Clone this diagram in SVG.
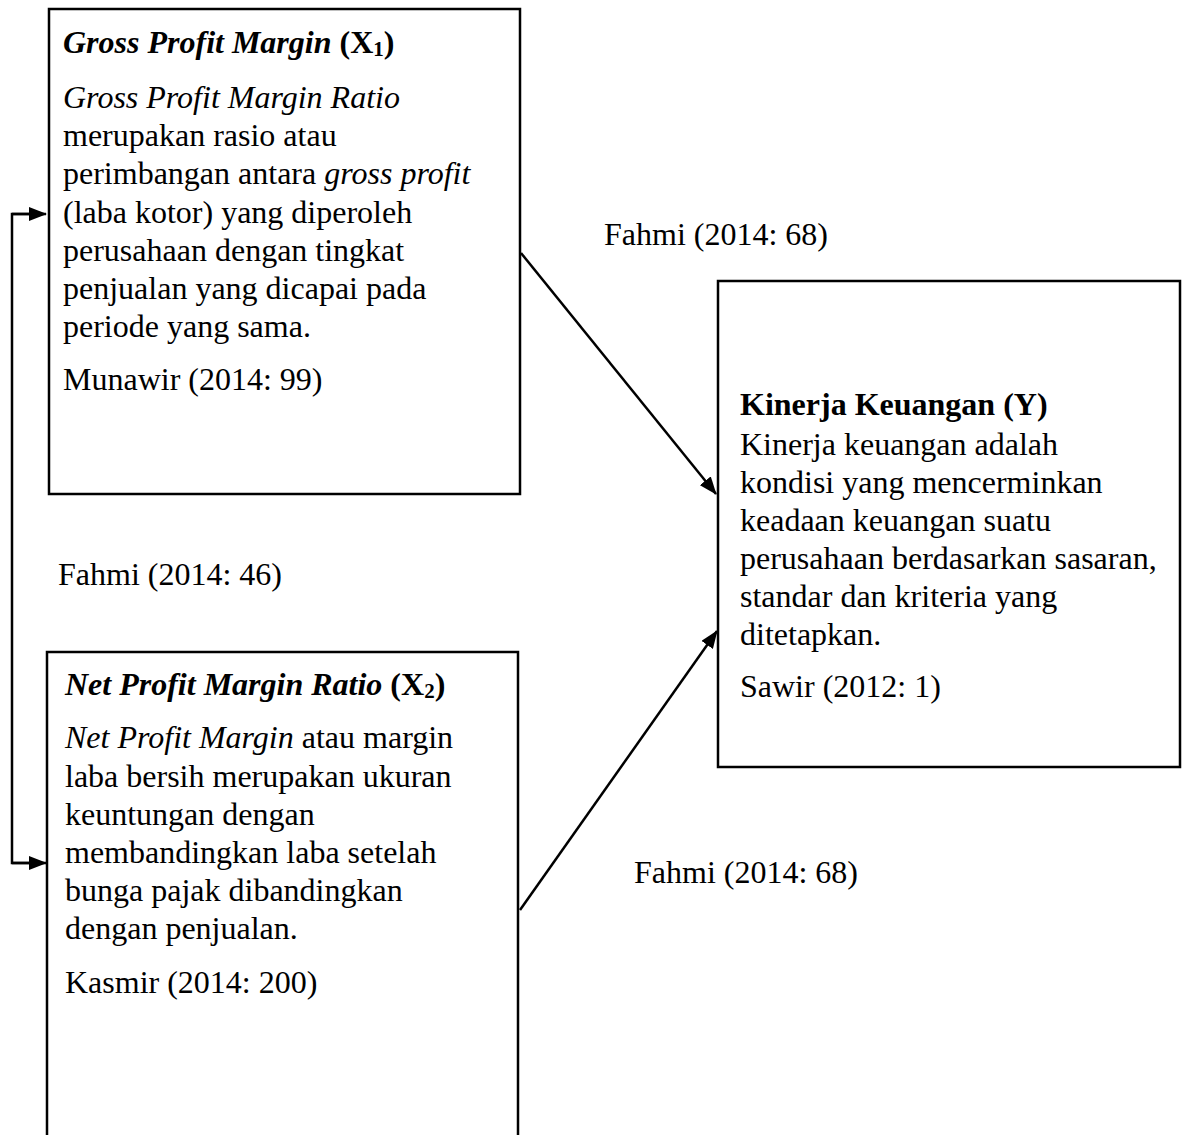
<svg xmlns="http://www.w3.org/2000/svg" width="1184" height="1135" viewBox="0 0 1184 1135">
<style>
text{font-family:"Liberation Serif","Times New Roman",serif;font-size:32px;fill:#000}
.b{font-weight:bold}
.i{font-style:italic}
.sub{font-size:21px}
.box{fill:#fff;stroke:#000;stroke-width:2.5}
.con{fill:none;stroke:#000;stroke-width:2.5}
</style>
<defs>
<marker id="ah" markerWidth="18" markerHeight="14" refX="17" refY="7" orient="auto" markerUnits="userSpaceOnUse">
<path d="M0,0 L18,7 L0,14 Z" fill="#000"/>
</marker>
</defs>
<g id="connectors">
<path class="con" d="M31,214 H12 V863 H31"/>
<line class="con" x1="12" y1="214" x2="46" y2="214" marker-end="url(#ah)"/>
<line class="con" x1="12" y1="863" x2="46" y2="863" marker-end="url(#ah)"/>
<line class="con" x1="521" y1="253" x2="716" y2="494" marker-end="url(#ah)"/>
<line class="con" x1="520" y1="910" x2="717" y2="631" marker-end="url(#ah)"/>
</g>
<g id="x1">
<rect class="box" x="49" y="9" width="471" height="485"/>
<text x="63" y="53"><tspan class="b i">Gross Profit Margin</tspan><tspan class="b"> (X</tspan><tspan class="b sub" dy="3">1</tspan><tspan class="b" dy="-3">)</tspan></text>
<text x="63" y="108" class="i">Gross Profit Margin Ratio</text>
<text x="63" y="146">merupakan rasio atau</text>
<text x="63" y="184">perimbangan antara <tspan class="i">gross profit</tspan></text>
<text x="63" y="223">(laba kotor) yang diperoleh</text>
<text x="63" y="261">perusahaan dengan tingkat</text>
<text x="63" y="299">penjualan yang dicapai pada</text>
<text x="63" y="337">periode yang sama.</text>
<text x="63" y="390">Munawir (2014: 99)</text>
</g>
<g id="x2">
<rect class="box" x="47" y="652" width="471" height="500"/>
<text x="65" y="695"><tspan class="b i">Net Profit Margin Ratio</tspan><tspan class="b"> (X</tspan><tspan class="b sub" dy="3">2</tspan><tspan class="b" dy="-3">)</tspan></text>
<text x="65" y="748"><tspan class="i">Net Profit Margin</tspan> atau margin</text>
<text x="65" y="787">laba bersih merupakan ukuran</text>
<text x="65" y="825">keuntungan dengan</text>
<text x="65" y="863">membandingkan laba setelah</text>
<text x="65" y="901">bunga pajak dibandingkan</text>
<text x="65" y="939">dengan penjualan.</text>
<text x="65" y="993">Kasmir (2014: 200)</text>
</g>
<g id="y">
<rect class="box" x="718" y="281" width="462" height="486"/>
<text x="740" y="415" class="b">Kinerja Keuangan (Y)</text>
<text x="740" y="455">Kinerja keuangan adalah</text>
<text x="740" y="493">kondisi yang mencerminkan</text>
<text x="740" y="531">keadaan keuangan suatu</text>
<text x="740" y="569">perusahaan berdasarkan sasaran,</text>
<text x="740" y="607">standar dan kriteria yang</text>
<text x="740" y="645">ditetapkan.</text>
<text x="740" y="697">Sawir (2012: 1)</text>
</g>
<g id="labels">
<text x="604" y="245">Fahmi (2014: 68)</text>
<text x="58" y="585">Fahmi (2014: 46)</text>
<text x="634" y="883">Fahmi (2014: 68)</text>
</g>
</svg>
